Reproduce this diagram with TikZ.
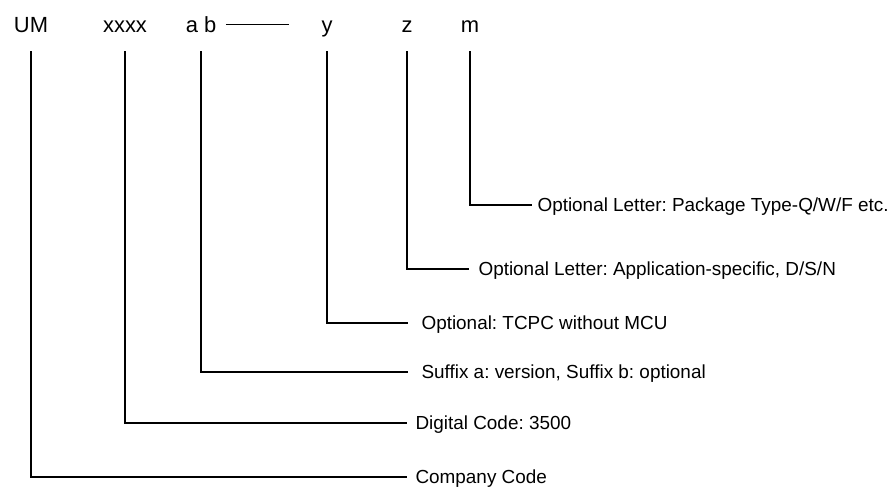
\documentclass[tikz,border=0pt]{standalone}
\usepackage{fontspec}
\setmainfont{Liberation Sans}
\usepackage{tikz}
\frenchspacing

\begin{document}
\begin{tikzpicture}[x=0.025cm, y=-0.025cm, line width=0.75pt,
    code/.style={anchor=base, inner sep=0pt, text height=11.2pt, text depth=0pt, font=\fontsize{15.6}{18}\selectfont},
    desc/.style={anchor=west, inner sep=0pt, text height=9.6pt, text depth=0pt, font=\fontsize{13.45}{16}\selectfont},
    lead/.style={shorten >=5.5pt}]
    \useasboundingbox (0,0) rectangle (891,489);

    % part number fields
    \node (um) [code] at (31,32.5) {UM};
    \node (xxxx) [code] at (125,32.5) {xxxx};
    \node (ab) [code] at (201,32.5) {a b};
    \node (y) [code] at (327,32.5) {y};
    \node (z) [code] at (407,32.5) {z};
    \node (m) [code] at (470,32.5) {m};
    \draw ([xshift=6.4pt]ab.east) -- ([xshift=51.2pt]ab.east);

    % meanings
    \node (pkg) [desc] at (537,205) {Optional Letter: Package Type-Q/W/F etc.};
    \node (app) [desc] at (478,269) {Optional Letter: Application-specific, D/S/N};
    \node (tcpc) [desc] at (421,323) {Optional: TCPC without MCU};
    \node (suffix) [desc] at (421,372) {Suffix a: version, Suffix b: optional};
    \node (digital) [desc] at (415,423) {Digital Code: 3500};
    \node (company) [desc] at (415,477) {Company Code};

    \draw[lead, shorten >=3.6pt] ([yshift=-13pt]m.south) |- (pkg.west);
    \draw[lead, shorten >=6.2pt] ([yshift=-13pt]z.south) |- (app.west);
    \draw[lead, shorten >=9.6pt] ([yshift=-13pt]y.south) |- (tcpc.west);
    \draw[lead, shorten >=9.6pt] ([yshift=-13pt]ab.south) |- (suffix.west);
    \draw[lead] ([yshift=-13pt]xxxx.south) |- (digital.west);
    \draw[lead] ([yshift=-13pt]um.south) |- (company.west);
\end{tikzpicture}
\end{document}
